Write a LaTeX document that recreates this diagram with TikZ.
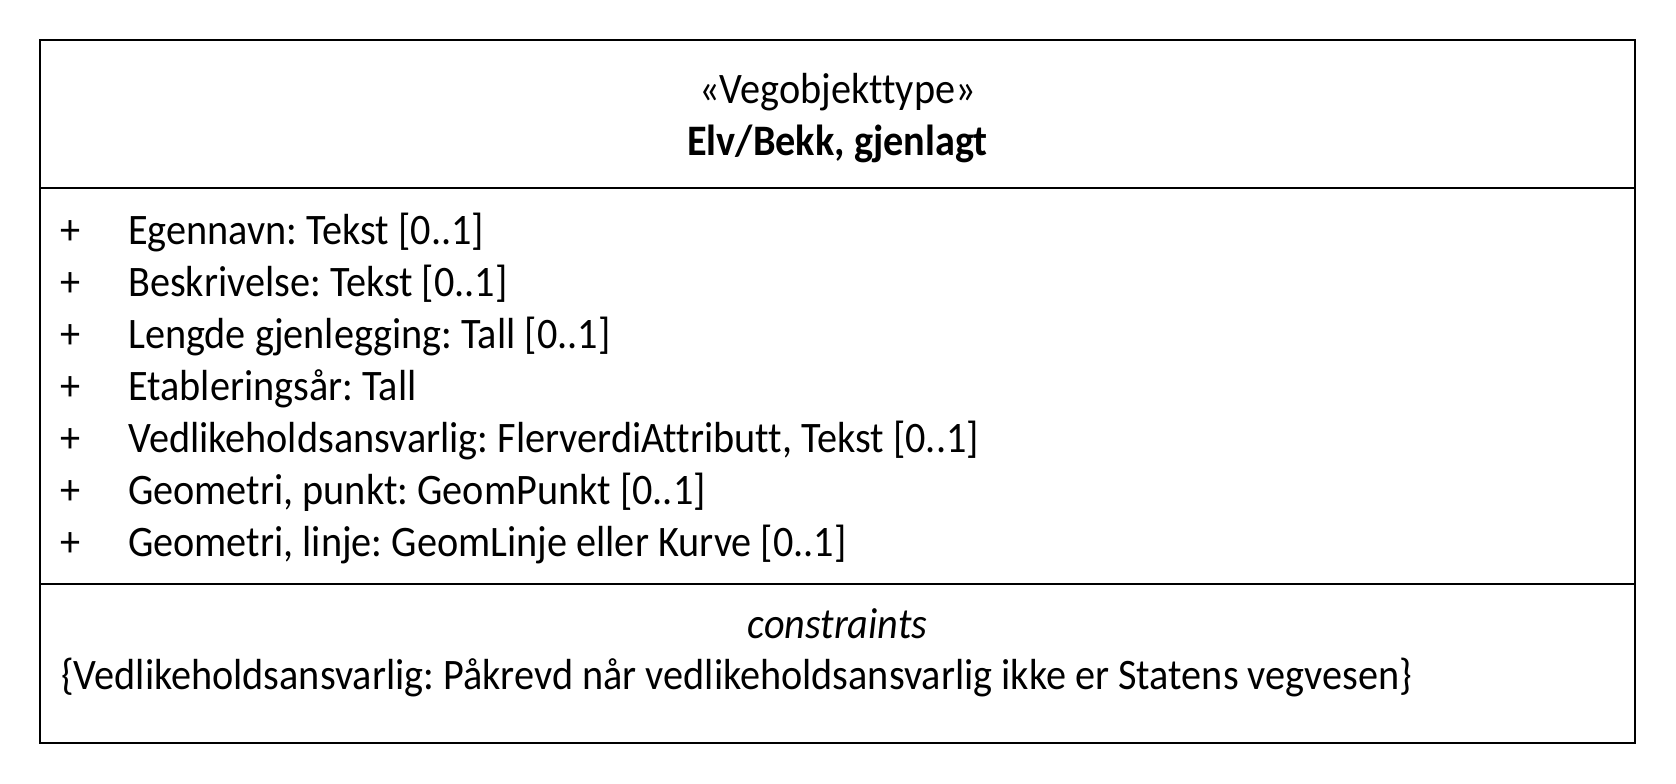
\documentclass[tikz,border=0pt]{standalone}
\usepackage{fontspec}
\setmainfont{Carlito}[FakeStretch=0.925,Ligatures=NoCommon]
\frenchspacing
\begin{document}
\begin{tikzpicture}[x=1pt,y=-1pt,
        txt/.style={inner sep=0pt,font=\fontsize{43.5}{52}\selectfont},
        attr/.style={txt,anchor=base west},
        frame/.style={line width=1.4pt}]
        \useasboundingbox (0,0) rectangle (1676,784);
        % class box with its three compartments
        \draw[frame] (40,40) rectangle (1635,743);
        \coordinate (sepA) at (40,188);
        \coordinate (sepB) at (40,584);
        \draw[frame] (sepA) -- ++(1595,0);
        \draw[frame] (sepB) -- ++(1595,0);
        \node[txt,anchor=base] (stereo) at (837.5,103) {«Vegobjekttype»};
        \node[txt,anchor=base,font=\fontsize{43.5}{52}\selectfont\bfseries] (klasse) at (837.5,155) {Elv/Bekk, gjenlagt};
        % attributes
        \foreach \i/\t in {0/{Egennavn: Tekst [0..1]},
                1/{Beskrivelse: Tekst [0..1]},
                2/{Lengde gjenlegging: Tall [0..1]},
                3/{Etableringsår: Tall},
                4/{Vedlikeholdsansvarlig: FlerverdiAttributt, Tekst [0..1]},
                5/{Geometri, punkt: GeomPunkt [0..1]},
                6/{Geometri, linje: GeomLinje eller Kurve [0..1]}} {
            \node[attr] (vis\i) at (60,244+52*\i) {+};
            \node[attr] (attr\i) at (128,244+52*\i) {\t};
        }
        % constraints
        \node[txt,anchor=base,font=\fontsize{43.5}{52}\selectfont\itshape] (cons) at (837.5,638) {constraints};
        \node[attr] (regel) at (61,689) {\{Vedlikeholdsansvarlig: Påkrevd når vedlikeholdsansvarlig ikke er Statens vegvesen\}};
    \end{tikzpicture}
\end{document}
